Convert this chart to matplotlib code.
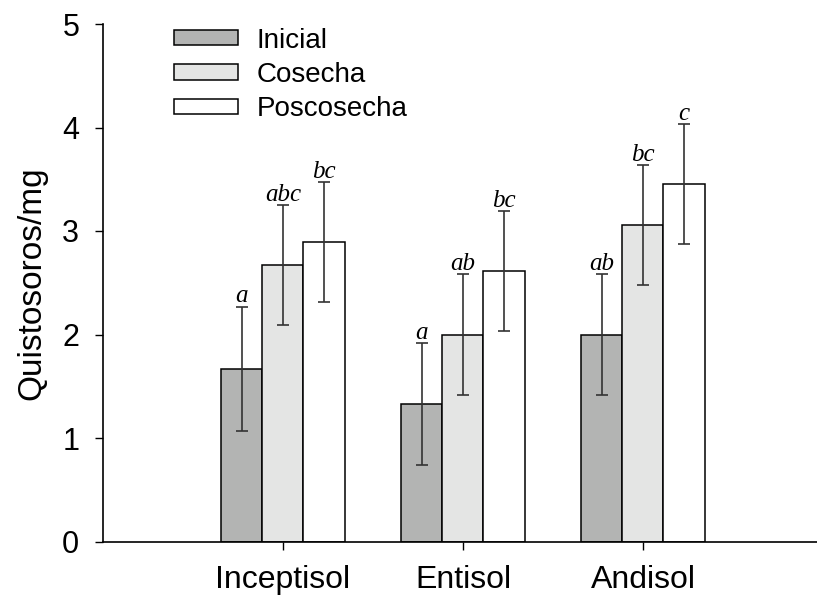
import matplotlib
matplotlib.use("Agg")
import matplotlib.pyplot as plt
import numpy as np

# --- datos ---
suelos = ["Inceptisol", "Entisol", "Andisol"]
series = ["Inicial", "Cosecha", "Poscosecha"]
inicial = [1.67, 1.33, 2.00]
cosecha = [2.67, 2.00, 3.06]
poscosecha = [2.89, 2.61, 3.45]
err_inicial = [0.60, 0.59, 0.58]
err_cosecha = [0.58, 0.58, 0.58]
err_poscosecha = [0.58, 0.58, 0.58]
letras_inicial = ["a", "a", "ab"]
letras_cosecha = ["abc", "ab", "bc"]
letras_poscosecha = ["bc", "bc", "c"]

valores = [inicial, cosecha, poscosecha]
errores = [err_inicial, err_cosecha, err_poscosecha]
letras = [letras_inicial, letras_cosecha, letras_poscosecha]
colores = ["#b3b4b3", "#e4e5e4", "#ffffff"]

plt.rcParams['font.family'] = ['Liberation Sans', 'DejaVu Sans']

fig = plt.figure(figsize=(8.17, 6.0), dpi=100)
ax = fig.add_axes([0.126, 0.0975, 0.874, 0.8625])

x = np.arange(len(suelos))
ancho = 0.228

for i, nombre in enumerate(series):
    pos = x + (i - 1) * ancho
    ax.bar(pos, valores[i], width=ancho, color=colores[i], edgecolor='black',
           linewidth=1.1, label=nombre, zorder=2)
    ax.errorbar(pos, valores[i], yerr=errores[i], fmt='none', ecolor='#333333',
                elinewidth=1.2, capsize=4, capthick=1.2, zorder=3)
    for px, v, e, t in zip(pos, valores[i], errores[i], letras[i]):
        ax.annotate(t, (px, v + e), textcoords="offset points", xytext=(0, 3),
                    ha='center', va='baseline', fontsize=18, style='italic',
                    family='Liberation Serif')

ax.set_xlim(-1.0, 2.967)
ax.set_ylim(0, 5)
ax.set_xticks(x)
ax.set_xticklabels(suelos, fontsize=23)
ax.set_yticks(range(0, 6))
ax.tick_params(axis='y', labelsize=22, length=6, width=1, pad=11)
ax.tick_params(axis='x', length=6, width=1, pad=11)
ax.set_ylabel("Quistosoros/mg", fontsize=24, labelpad=11)

ax.spines['top'].set_visible(False)
ax.spines['right'].set_visible(False)
ax.spines['left'].set_linewidth(1.2)
ax.spines['bottom'].set_linewidth(1.2)

ax.legend(loc='upper left', bbox_to_anchor=(0.1, 0.993), frameon=False,
          fontsize=20, handlelength=2.3, handleheight=0.47, handletextpad=0.65,
          labelspacing=0.3, borderpad=0, borderaxespad=0)

fig.savefig("out.png", dpi=100)
